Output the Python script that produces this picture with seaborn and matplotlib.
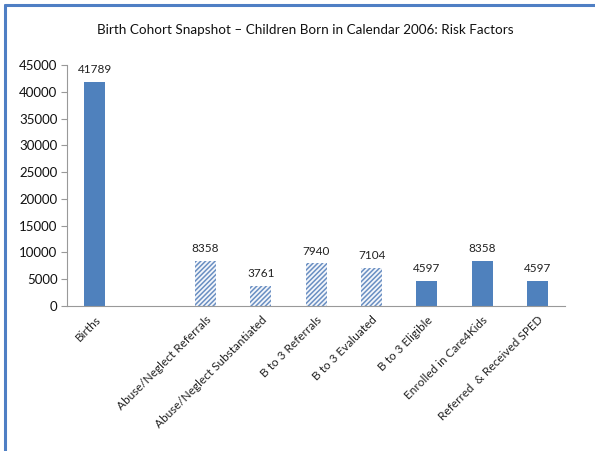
import matplotlib
matplotlib.use("Agg")
import matplotlib.pyplot as plt
from matplotlib.lines import Line2D
import seaborn as sns
import pandas as pd
import numpy as np

categories = ["Births", "Abuse/Neglect Referrals", "Abuse/Neglect Substantiated",
              "B to 3 Referrals", "B to 3 Evaluated", "B to 3 Eligible",
              "Enrolled in Care4Kids", "Referred  & Received SPED"]
values = [41789, 8358, 3761, 7940, 7104, 4597, 8358, 4597]
hatched = [False, True, True, True, True, False, False, False]
order = ["Births", " ", "Abuse/Neglect Referrals", "Abuse/Neglect Substantiated",
         "B to 3 Referrals", "B to 3 Evaluated", "B to 3 Eligible",
         "Enrolled in Care4Kids", "Referred  & Received SPED"]
title = "Birth Cohort Snapshot \u2013 Children Born in Calendar 2006: Risk Factors"
yticks = [0, 5000, 10000, 15000, 20000, 25000, 30000, 35000, 40000, 45000]

sns.set_style("white")
plt.rcParams['font.family'] = ['Lato', 'DejaVu Sans']
plt.rcParams['hatch.linewidth'] = 1.1
plt.rcParams['hatch.color'] = '#6a8fc2'

df = pd.DataFrame({"cat": categories, "val": values})

fig = plt.figure(figsize=(5.95, 4.51), dpi=100)
ax = fig.add_axes([0.113, 0.3215, 0.837, 0.5345])

sns.barplot(data=df, x="cat", y="val", order=order, color="#4F81BD",
            width=0.38, ax=ax, saturation=1)

solid = "#4F81BD"
bars = [p for p in ax.patches]
present = [c for c in order if c in categories]
for p, c in zip(bars, present):
    i = categories.index(c)
    p.set_linewidth(0)
    if hatched[i]:
        p.set_facecolor("#f3f6fb")
        p.set_hatch("///////")
        p.set_edgecolor("#6a8fc2")
        p.set_linewidth(0)
    else:
        p.set_facecolor(solid)
    x = p.get_x() + p.get_width() / 2
    ax.annotate(f"{values[i]}", (x, p.get_height()), xytext=(0, 5),
                textcoords="offset points", ha="center", va="bottom",
                fontsize=8.5, color="#222222")

ax.set_ylim(0, 45000)
ax.set_xlim(-0.5, len(order) - 0.5)
ax.set_yticks(yticks)
ax.set_yticklabels([str(v) for v in yticks], fontsize=9.5, color="#111111")
ax.set_xlabel("")
ax.set_ylabel("")
ax.set_xticks(range(len(order)))
ax.set_xticklabels(order, rotation=45, ha="right", rotation_mode="anchor",
                   fontsize=8.5, color="#222222")
ax.set_xticks(np.arange(-0.5, len(order) + 0.5, 1), minor=True)
ax.tick_params(axis="x", which="major", length=0, pad=6)
ax.tick_params(axis="x", which="minor", length=4, color="#999999", direction="out")
ax.tick_params(axis="y", length=4, color="#999999", direction="out", left=True, pad=3)

for s in ["top", "right"]:
    ax.spines[s].set_visible(False)
for s in ["left", "bottom"]:
    ax.spines[s].set_color("#999999")
    ax.spines[s].set_linewidth(0.8)

fig.text(0.513, 0.933, title, ha="center", va="center", fontsize=9.7, color="#111111")

fig.add_artist(Line2D([5/595, 1.0], [1 - 5/451, 1 - 5/451], transform=fig.transFigure,
                      color="#4f7fc4", linewidth=2.2))
fig.add_artist(Line2D([5/595, 5/595], [1 - 5/451, 0], transform=fig.transFigure,
                      color="#4f7fc4", linewidth=2.2))

fig.savefig("out.png", dpi=100)
